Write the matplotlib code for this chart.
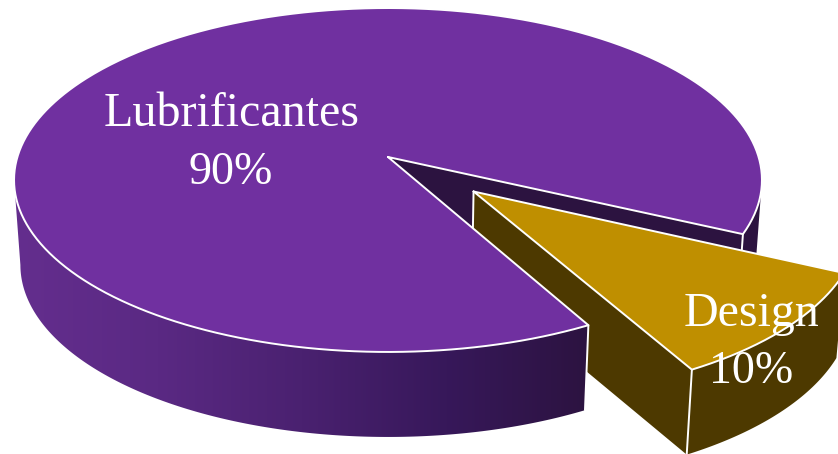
import numpy as np
import matplotlib
matplotlib.use('Agg')
import matplotlib.pyplot as plt
from matplotlib.colors import LinearSegmentedColormap
from matplotlib.patches import Polygon

categories = ['Lubrificantes', 'Design']
values = [90, 10]

PURPLE = '#7030a0'
PURPLE_DARK = '#2c1340'
GOLD = '#bf8f00'
GOLD_DARK = '#4d3900'

# perspective of the pie disc, in pixels
CX, CY = 388.0, 157.0
RX = 370.6
K = 0.1337
A = -147.9
DEPTH = 85.0
SHRINK = 0.983
START = -25.5
EXPLODE = 0.30
EXPLODE_DIR = -41.5


def project(X, Y, z=0.0):
    X = np.asarray(X, dtype=float)
    Y = np.asarray(Y, dtype=float)
    d = 1 + K * Y
    px = CX + RX * X / d * (1 - (1 - SHRINK) * z)
    py = (A * Y + CY) / d + DEPTH * z
    return np.column_stack([px, py])


def rim(t0, t1, ox=0.0, oy=0.0, z=0.0, n=200):
    t = np.radians(np.linspace(t0, t1, n))
    return project(np.cos(t) + ox, np.sin(t) + oy, z)


def wall(t0, t1, ox=0.0, oy=0.0):
    return np.vstack([rim(t0, t1, ox, oy), rim(t0, t1, ox, oy, 1.0)[::-1]])


def edge(ax, pts, z, lw=1.4):
    ax.plot(pts[:, 0], pts[:, 1], color='white', lw=lw, zorder=z,
            solid_capstyle='round', solid_joinstyle='round')


fig = plt.figure(figsize=(8.38, 4.54), dpi=100)
ax = fig.add_axes([0, 0, 1, 1])

sweep = 360.0 * values[1] / sum(values)
end = START - sweep
left = 180 + np.degrees(np.arcsin(K))
right = -np.degrees(np.arcsin(K))
ox = EXPLODE * np.cos(np.radians(EXPLODE_DIR))
oy = EXPLODE * np.sin(np.radians(EXPLODE_DIR))

# back piece of the purple side wall and the inside cut
ax.add_patch(Polygon(wall(START, right), fc=PURPLE_DARK, ec='none', zorder=1))
cut = np.vstack([project(0, 0), rim(START, START, n=1), rim(START, START, z=1.0, n=1), project(0, 0, 1.0)])
ax.add_patch(Polygon(cut, fc=PURPLE_DARK, ec='none', zorder=1))
edge(ax, np.vstack([rim(START, START, n=1), rim(START, START, z=1.0, n=1)]), 1.5)

# exploded slice
apex = project(ox, oy)
apex_low = project(ox, oy, 1.0)
side = np.vstack([apex, rim(end, end, ox, oy, n=1), rim(end, end, ox, oy, 1.0, n=1), apex_low])
ax.add_patch(Polygon(side, fc=GOLD_DARK, ec='none', zorder=2))
ax.add_patch(Polygon(wall(end, START, ox, oy), fc=GOLD_DARK, ec='none', zorder=2))
edge(ax, np.vstack([apex, apex_low]), 2.5)
edge(ax, np.vstack([rim(end, end, ox, oy, n=1), rim(end, end, ox, oy, 1.0, n=1)]), 2.5)
top_gold = np.vstack([apex, rim(end, START, ox, oy)])
ax.add_patch(Polygon(top_gold, fc=GOLD, ec='none', zorder=3))
edge(ax, np.vstack([top_gold, apex]), 3.5)

# front wall with the dark gradient running left to right
front = Polygon(wall(left - 360, end), fc='none', ec='none', zorder=4)
ax.add_patch(front)
shade = LinearSegmentedColormap.from_list('shade', ['#642e8e', '#5a2983', '#4a2170', '#37185a', PURPLE_DARK])
img = ax.imshow(np.linspace(0, 1, 256).reshape(1, -1), cmap=shade, extent=(14, 590, 454, 0),
                aspect='auto', zorder=4)
img.set_clip_path(front)
edge(ax, np.vstack([rim(end, end, n=1), rim(end, end, z=1.0, n=1)]), 4.5)

# main top face
top = np.vstack([project(0, 0), rim(START, end + 360, n=600)])
ax.add_patch(Polygon(top, fc=PURPLE, ec='none', zorder=5))
edge(ax, np.vstack([top, project(0, 0)]), 6)

ax.text(232, 114, categories[0], color='white', fontsize=34.6, family='Liberation Serif',
        ha='center', va='center', zorder=7)
ax.text(231, 173, f'{values[0]}%', color='white', fontsize=33, family='Liberation Serif',
        ha='center', va='center', zorder=7)
ax.text(751, 314, categories[1], color='white', fontsize=34.6, family='Liberation Serif',
        ha='center', va='center', zorder=7)
ax.text(751, 372, f'{values[1]}%', color='white', fontsize=33, family='Liberation Serif',
        ha='center', va='center', zorder=7)

ax.set_xlim(0, 838)
ax.set_ylim(454, 0)
ax.axis('off')

plt.savefig('out.png', dpi=100)
